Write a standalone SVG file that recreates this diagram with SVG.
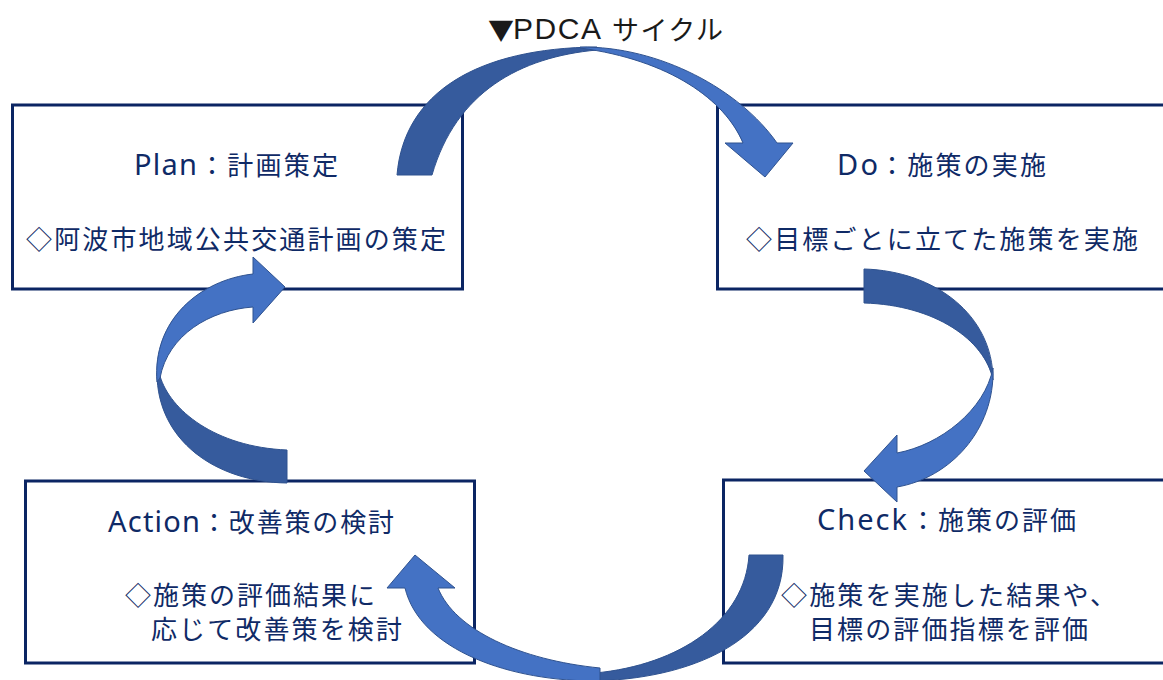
<svg xmlns="http://www.w3.org/2000/svg" width="1163" height="680" viewBox="0 0 1163 680">
<style>
.box{fill:#ffffff;stroke:#0b2563;stroke-width:3}
.t{font-family:"Noto Sans CJK JP","Noto Sans",sans-serif;fill:#0f2a66;font-size:26px;dominant-baseline:central}
.m{text-anchor:middle}
.lat{font-family:"Noto Sans","Noto Sans CJK JP",sans-serif;font-size:29px}
.back{fill:#365b9d;stroke:#2f528f;stroke-width:1;stroke-linejoin:round}
.front{fill:#4472c4;stroke:#2f528f;stroke-width:1;stroke-linejoin:miter}
</style>
<rect width="1163" height="680" fill="#ffffff"/>
<text class="t" y="28" style="fill:#1a1a1a"><tspan x="488" font-size="26">▼</tspan><tspan x="513" font-family="'Liberation Sans', Arial, sans-serif" font-size="30" textLength="88" lengthAdjust="spacing">PDCA</tspan> <tspan x="612" font-size="27" textLength="111" lengthAdjust="spacing">サイクル</tspan></text>

<g id="plan">
<rect class="box" x="12.5" y="105" width="450" height="184"/>
<text class="t" y="163"><tspan class="lat" x="134" textLength="63" lengthAdjust="spacing">Plan</tspan><tspan x="199" textLength="139" lengthAdjust="spacing">：計画策定</tspan></text>
<text class="t m" x="236" y="237" textLength="420" lengthAdjust="spacing">◇阿波市地域公共交通計画の策定</text>
</g>

<g id="do">
<rect class="box" x="717.5" y="105" width="452" height="184"/>
<text class="t" y="163"><tspan class="lat" x="837" textLength="41" lengthAdjust="spacing">Do</tspan><tspan x="879" textLength="167" lengthAdjust="spacing">：施策の実施</tspan></text>
<text class="t m" x="942" y="237" textLength="392" lengthAdjust="spacing">◇目標ごとに立てた施策を実施</text>
</g>

<g id="action">
<rect class="box" x="25.5" y="481" width="449" height="182"/>
<text class="t" y="520"><tspan class="lat" x="108" textLength="92" lengthAdjust="spacing">Action</tspan><tspan x="201" textLength="193" lengthAdjust="spacing">：改善策の検討</tspan></text>
<text class="t" x="125" y="593" textLength="250" lengthAdjust="spacing">◇施策の評価結果に</text>
<text class="t" x="151" y="627" textLength="251" lengthAdjust="spacing">応じて改善策を検討</text>
</g>

<g id="check">
<rect class="box" x="723.5" y="480" width="452" height="183"/>
<text class="t" y="518"><tspan class="lat" x="817" textLength="90" lengthAdjust="spacing">Check</tspan><tspan x="910" textLength="166" lengthAdjust="spacing">：施策の評価</tspan></text>
<text class="t" x="781" y="593" textLength="335" lengthAdjust="spacing">◇施策を実施した結果や、</text>
<text class="t" x="809" y="627" textLength="279" lengthAdjust="spacing">目標の評価指標を評価</text>
</g>

<g id="connectors">
<g id="arrow-plan-do">
<path class="back" d="M397,175 C404,92 478,48 597,47 L597,50 C520,57 456,92 432,175 Z"/>
<path class="front" d="M580,47 C660,46 740,90 777,143 L793,143 L765,177 L725,143 L743,143 C725,100 670,60 580,48 Z"/>
</g>
<g id="arrow-do-check">
<path class="back" d="M864,269 C935,271 993,315 993,380 C985,340 935,305 864,303 Z"/>
<path class="front" d="M993,368 C995,430 950,478 897,487 L897,502 L864,471 L897,435 L897,453 C940,445 985,410 993,368 Z"/>
</g>
<g id="arrow-check-action">
<path class="back" d="M783,555 C785,640 690,680 590,681 L595,673 C680,665 745,620 749,555 Z"/>
<path class="front" d="M405,588 C420,650 510,682 600,681 L600,668 C520,660 455,630 438,588 L455,588 L415,555 L387,588 Z"/>
</g>
<g id="arrow-action-plan">
<path class="back" d="M287,483 C215,482 157,440 157,373 L160,376 C170,410 215,447 287,450 Z"/>
<path class="front" d="M157,382 C152,320 200,280 253,274 L253,257 L285,287 L253,323 L253,307 C210,310 168,335 160,378 Z"/>
</g>
</g>
</svg>
